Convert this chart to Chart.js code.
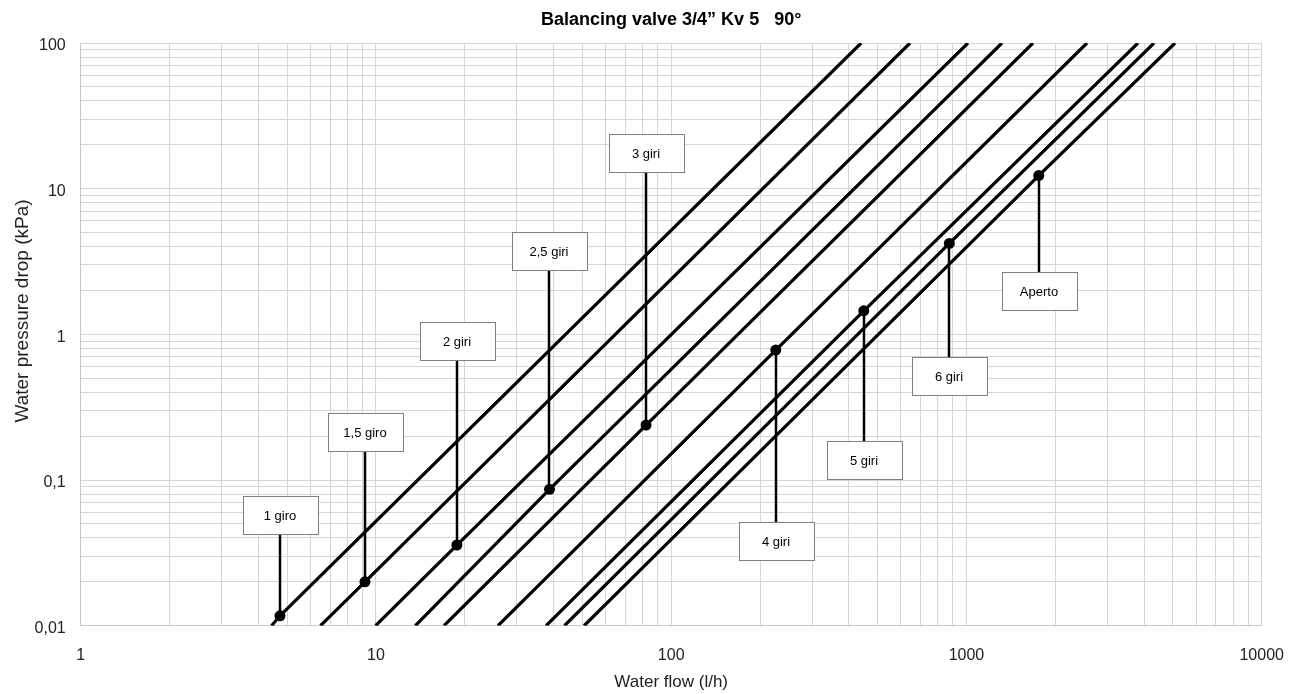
<!DOCTYPE html>
<html>
<head>
<meta charset="utf-8">
<title>Balancing valve 3/4" Kv 5</title>
<script src="https://cdn.jsdelivr.net/npm/chart.js@4.4.1/dist/chart.umd.min.js"></script>
<style>
  body { margin: 0; background: #fff; }
  canvas { display: block; }
</style>
</head>
<body>
<canvas id="graficoValvola" width="1298" height="694"></canvas>
<script>
// Curve della valvola di bilanciamento, una per ogni apertura
const aperture = ['1 giro', '1,5 giro', '2 giri', '2,5 giri', '3 giri', '4 giri', '5 giri', '6 giri', 'Aperto'];

// portata (l/h) dove ogni curva entra dal basso (0,01 kPa) ed esce in alto (100 kPa)
const dropMin = 0.01;
const dropMax = 100;
const flowAtMin = [4.43, 6.49, 9.97, 13.6, 17.0, 25.9, 37.7, 43.5, 50.7];
const flowAtMax = [440, 644, 1012, 1319, 1680, 2560, 3811, 4318, 5087];

// punto evidenziato su ogni curva
const markFlow = [4.73, 9.18, 18.8, 38.7, 82.2, 226, 449, 875, 1757];
const markDrop = [0.0117, 0.0200, 0.0358, 0.0863, 0.2385, 0.780, 1.45, 4.21, 12.3];

// quota (kPa) del riquadro con il nome dell'apertura
const labelDrop = [0.0575, 0.2135, 0.90, 3.76, 17.5, 0.0381, 0.137, 0.517, 1.98];

// etichette degli assi
const xTicks = [1, 10, 100, 1000, 10000];
const yTicks = [0.01, 0.1, 1, 10, 100];

const FONT = "'Liberation Sans', Arial, sans-serif";
Chart.defaults.font.family = FONT;
Chart.defaults.color = '#222';

// tutte le linee della griglia logaritmica (1..9 per ogni decade)
function grigliaLog(min, max) {
    const ticks = [];
    for (let p = Math.round(Math.log10(min)); p < Math.round(Math.log10(max)); p++) {
        for (let m = 1; m < 10; m++) ticks.push({ value: +(m * Math.pow(10, p)).toPrecision(4) });
    }
    ticks.push({ value: max });
    return ticks;
}

function etichetta(lista) {
    return (v) => lista.includes(v) ? String(v).replace('.', ',') : '';
}

// l'area del grafico non deve stringersi per le etichette agli estremi
function senzaMargini(scale) {
    scale.paddingLeft = 0;
    scale.paddingRight = 0;
    scale.paddingTop = 0;
    scale.paddingBottom = 0;
}

const curve = aperture.map((nome, i) => ({
    label: nome,
    data: [
        { x: flowAtMin[i], y: dropMin },
        { x: markFlow[i], y: markDrop[i] },
        { x: flowAtMax[i], y: dropMax }
    ],
    showLine: true,
    borderColor: '#000',
    borderWidth: 3.2,
    pointRadius: 0,
    tension: 0
}));

const punti = {
    label: 'punti',
    data: aperture.map((nome, i) => ({ x: markFlow[i], y: markDrop[i] })),
    showLine: false,
    pointRadius: 5.5,
    pointBackgroundColor: '#000',
    pointBorderWidth: 0
};

// riquadri con il nome e linea di richiamo verso il punto
const riquadri = {
    id: 'riquadri',
    beforeDatasetsDraw(chart) {
        const { ctx, scales: { x, y } } = chart;
        const w = 75, h = 38;
        ctx.save();
        aperture.forEach((nome, i) => {
            const px = Math.round(x.getPixelForValue(markFlow[i]));
            const pDot = y.getPixelForValue(markDrop[i]);
            const pBox = Math.round(y.getPixelForValue(labelDrop[i]));
            ctx.strokeStyle = '#000';
            ctx.lineWidth = 2.5;
            ctx.beginPath();
            ctx.moveTo(px, pDot);
            ctx.lineTo(px, pBox);
            ctx.stroke();

            const bx = Math.round(px - w / 2) + 0.5;
            const by = Math.round(pBox - h / 2) + 0.5;
            ctx.fillStyle = '#fff';
            ctx.fillRect(bx, by, w, h);
            ctx.strokeStyle = '#7f7f7f';
            ctx.lineWidth = 1;
            ctx.strokeRect(bx, by, w, h);

            ctx.fillStyle = '#000';
            ctx.font = '13px ' + FONT;
            ctx.textAlign = 'center';
            ctx.textBaseline = 'middle';
            ctx.fillText(nome, px, pBox + 1);
        });
        ctx.restore();
    },
    afterDraw(chart) {
        // titolo dell'asse verticale
        const { ctx } = chart;
        ctx.save();
        ctx.translate(23, 311);
        ctx.rotate(-Math.PI / 2);
        ctx.fillStyle = '#222';
        ctx.font = '19px ' + FONT;
        ctx.textAlign = 'center';
        ctx.textBaseline = 'middle';
        ctx.fillText('Water pressure drop (kPa)', 0, 0);
        ctx.restore();
    }
};

const ctx = document.getElementById('graficoValvola').getContext('2d');
const grafico = new Chart(ctx, {
    type: 'scatter',
    data: { datasets: [...curve, punti] },
    plugins: [riquadri],
    options: {
        responsive: false,
        animation: false,
        layout: { padding: { left: 0, right: 36.3, top: 0, bottom: 0 } },
        plugins: {
            legend: { display: false },
            tooltip: { enabled: false },
            title: {
                display: true,
                fullSize: false,
                text: 'Balancing valve 3/4\u201d Kv 5   90\u00b0',
                color: '#000',
                font: { size: 18, weight: 'bold' },
                padding: { top: 9, bottom: 12.4 }
            }
        },
        scales: {
            x: {
                type: 'logarithmic',
                min: 1,
                max: 10000,
                afterBuildTicks: (scale) => { scale.ticks = grigliaLog(1, 10000); },
                afterFit: (scale) => { scale.height = 68.3; senzaMargini(scale); },
                ticks: {
                    autoSkip: false,
                    maxRotation: 0,
                    padding: 20,
                    font: { size: 16 },
                    callback: etichetta(xTicks)
                },
                grid: { color: '#d6d6d6', lineWidth: 1, drawTicks: false },
                border: { color: '#c8c8c8' },
                title: {
                    display: true,
                    text: 'Water flow (l/h)',
                    font: { size: 17 },
                    padding: { top: 0, bottom: 1 }
                }
            },
            y: {
                type: 'logarithmic',
                min: 0.01,
                max: 100,
                afterBuildTicks: (scale) => { scale.ticks = grigliaLog(0.01, 100); },
                afterFit: (scale) => { scale.width = 80.7; senzaMargini(scale); },
                ticks: {
                    autoSkip: false,
                    padding: 15,
                    labelOffset: 3,
                    font: { size: 16 },
                    callback: etichetta(yTicks)
                },
                grid: { color: '#d6d6d6', lineWidth: 1, drawTicks: false },
                border: { color: '#c8c8c8' }
            }
        }
    }
});
</script>
</body>
</html>
